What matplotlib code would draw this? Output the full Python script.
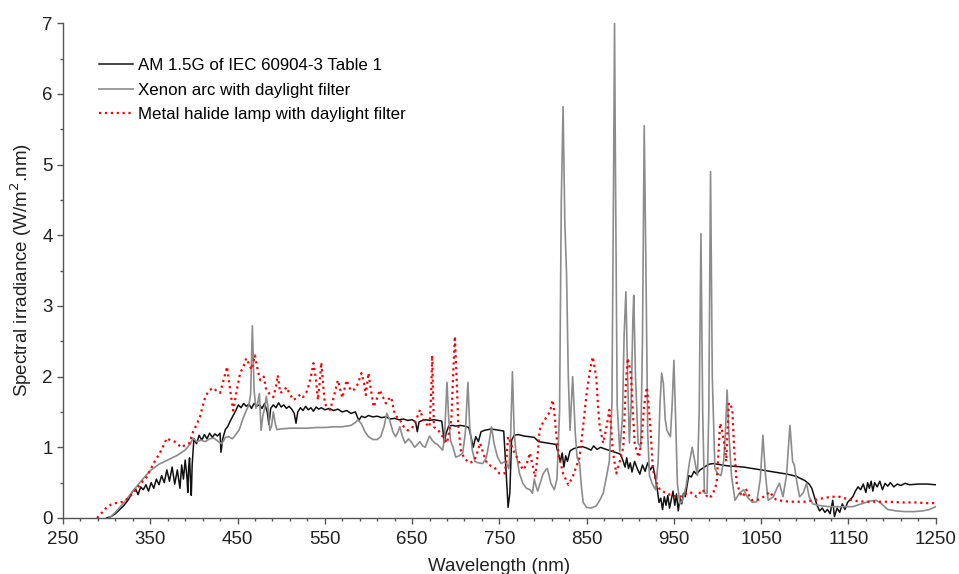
import matplotlib
matplotlib.use('Agg')
import matplotlib.pyplot as plt
from matplotlib.ticker import MultipleLocator

plt.rcParams['font.family'] = ['Liberation Sans', 'DejaVu Sans']

# AM 1.5G reference spectrum
am_wl = [300, 305, 310, 315, 320, 325, 330, 333, 336, 339, 342, 345, 348, 351, 354, 357, 360, 363, 366, 369,
         372, 375, 378, 381, 384, 386, 388, 390, 392, 393, 394, 395, 396, 397, 398, 400, 403, 406, 409, 412,
         415, 418, 421, 424, 427, 430, 431, 433, 436, 439, 442, 445, 448, 451, 454, 457, 460, 463, 466, 469,
         472, 475, 478, 481, 484, 486, 488, 491, 494, 497, 500, 503, 506, 509, 512, 515, 517, 519, 522, 525,
         528, 531, 534, 537, 540, 543, 546, 550, 555, 560, 565, 570, 575, 580, 585, 589, 592, 596, 600, 605,
         610, 615, 620, 625, 630, 635, 640, 645, 650, 654, 656, 658, 662, 666, 670, 675, 680, 684, 687, 689,
         692, 696, 700, 705, 710, 715, 718, 720, 723, 726, 729, 733, 737, 741, 745, 750, 755, 758, 760, 762,
         764, 767, 772, 778, 784, 790, 795, 800, 805, 810, 815, 818, 820, 822, 824, 826, 828, 831, 835, 840,
         845, 850, 855, 858, 862, 866, 870, 875, 880, 885, 889, 892, 894, 896, 898, 900, 902, 905, 908, 911,
         914, 917, 920, 923, 926, 929, 931, 933, 935, 937, 939, 941, 943, 945, 947, 949, 951, 953, 955, 957,
         959, 961, 963, 965, 967, 970, 973, 976, 980, 985, 990, 995, 1000, 1010, 1020, 1030, 1040, 1050, 1060, 1070,
         1080, 1090, 1100, 1105, 1108, 1111, 1114, 1117, 1120, 1123, 1126, 1129, 1132, 1134, 1137, 1140, 1143, 1146, 1149, 1152,
         1155, 1158, 1161, 1164, 1167, 1170, 1172, 1174, 1176, 1178, 1180, 1183, 1186, 1189, 1192, 1195, 1198, 1202, 1206, 1210,
         1215, 1220, 1230, 1240, 1250]
am_val = [0.0, 0.02, 0.06, 0.12, 0.18, 0.26, 0.38, 0.42, 0.33, 0.44, 0.40, 0.47, 0.38, 0.50, 0.42, 0.55, 0.47, 0.60, 0.50, 0.68,
          0.52, 0.72, 0.48, 0.68, 0.42, 0.75, 0.55, 0.82, 0.58, 0.36, 0.72, 0.85, 0.55, 0.32, 0.75, 1.12, 1.05, 1.17, 1.10, 1.18,
          1.12, 1.20, 1.14, 1.19, 1.16, 1.20, 0.93, 1.12, 1.25, 1.30, 1.38, 1.45, 1.52, 1.60, 1.56, 1.62, 1.58, 1.61, 1.55, 1.62,
          1.58, 1.60, 1.55, 1.62, 1.50, 1.32, 1.55, 1.60, 1.56, 1.63, 1.57, 1.60, 1.55, 1.58, 1.54, 1.48, 1.34, 1.50, 1.56, 1.52,
          1.58, 1.53, 1.56, 1.51, 1.57, 1.54, 1.56, 1.53, 1.55, 1.52, 1.54, 1.50, 1.52, 1.48, 1.50, 1.38, 1.44, 1.42, 1.45, 1.43,
          1.44, 1.42, 1.43, 1.40, 1.41, 1.39, 1.40, 1.38, 1.39, 1.36, 1.22, 1.36, 1.38, 1.39, 1.38, 1.39, 1.38, 1.37, 1.07, 1.20,
          1.30, 1.31, 1.30, 1.31, 1.30, 1.28, 1.12, 1.00, 1.15, 1.08, 1.22, 1.24, 1.25, 1.26, 1.25, 1.24, 1.23, 0.60, 0.15, 0.35,
          1.10, 1.17, 1.18, 1.16, 1.15, 1.14, 1.08, 1.07, 1.06, 1.05, 1.04, 0.88, 0.80, 0.92, 0.72, 0.88, 0.80, 0.95, 0.98, 1.00,
          1.01, 0.99, 0.96, 1.02, 0.97, 1.00, 0.98, 0.96, 0.94, 0.92, 0.90, 0.80, 0.72, 0.85, 0.70, 0.78, 0.65, 0.80, 0.70, 0.62,
          0.75, 0.66, 0.78, 0.68, 0.74, 0.55, 0.40, 0.22, 0.28, 0.12, 0.30, 0.18, 0.32, 0.14, 0.26, 0.38, 0.18, 0.34, 0.10, 0.28,
          0.20, 0.35, 0.30, 0.45, 0.60, 0.58, 0.66, 0.62, 0.68, 0.72, 0.76, 0.77, 0.76, 0.74, 0.73, 0.72, 0.70, 0.68, 0.66, 0.64,
          0.62, 0.59, 0.53, 0.48, 0.42, 0.30, 0.18, 0.10, 0.14, 0.08, 0.12, 0.06, 0.25, 0.02, 0.14, 0.08, 0.20, 0.12, 0.22, 0.26,
          0.30, 0.38, 0.44, 0.40, 0.48, 0.36, 0.50, 0.42, 0.52, 0.38, 0.50, 0.44, 0.52, 0.40, 0.49, 0.45, 0.50, 0.44, 0.48, 0.46,
          0.49, 0.47, 0.48, 0.48, 0.47]

# Xenon arc with daylight filter
xe_wl = [303, 310, 320, 330, 340, 350, 360, 370, 380, 390, 396, 399, 403, 408, 413, 418, 423, 428, 432, 436,
         440, 444, 448, 452, 456, 460, 463, 465, 467, 469, 471, 473, 475, 477, 479, 481, 483, 485, 487, 489,
         491, 493, 495, 500, 510, 520, 530, 540, 550, 560, 570, 580, 585, 588, 592, 596, 600, 605, 610, 614,
         618, 621, 624, 628, 631, 634, 636, 639, 642, 646, 650, 653, 656, 659, 662, 665, 668, 670, 673, 676,
         679, 682, 685, 687, 690, 692, 694, 697, 700, 704, 708, 711, 714, 716, 719, 722, 726, 731, 735, 738,
         741, 744, 748, 752, 757, 761, 763, 765, 767, 769, 773, 777, 781, 785, 788, 790, 792, 794, 797, 800,
         803, 805, 807, 809, 813, 816, 819, 821, 823, 825, 827, 829, 831, 834, 837, 839, 842, 844, 846, 850,
         855, 861, 865, 869, 873, 876, 879, 881, 882, 883, 885, 888, 891, 893, 895, 897, 899, 901, 903, 904,
         906, 909, 912, 914, 916, 918, 920, 922, 925, 929, 932, 934, 936, 938, 940, 942, 946, 948, 950, 952,
         954, 957, 960, 964, 968, 971, 974, 977, 979, 981, 983, 985, 988, 990, 992, 994, 997, 1000, 1004, 1007,
         1009, 1011, 1013, 1016, 1020, 1025, 1030, 1034, 1040, 1045, 1049, 1052, 1055, 1058, 1064, 1068, 1071, 1075, 1079, 1083,
         1086, 1088, 1091, 1094, 1098, 1102, 1105, 1109, 1115, 1120, 1128, 1140, 1155, 1165, 1175, 1182, 1188, 1195, 1205, 1215,
         1225, 1235, 1243, 1250]
xe_val = [0.0, 0.08, 0.22, 0.38, 0.53, 0.67, 0.76, 0.82, 0.88, 0.96, 1.05, 1.13, 1.08, 1.10, 1.08, 1.12, 1.13, 1.08, 1.05, 1.14,
          1.15, 1.12, 1.18, 1.25, 1.40, 1.52, 1.60, 1.75, 2.72, 1.80, 1.55, 1.62, 1.76, 1.24, 1.45, 1.55, 1.72, 1.55, 1.24, 1.30,
          1.50, 1.35, 1.25, 1.26, 1.27, 1.27, 1.27, 1.28, 1.28, 1.29, 1.29, 1.31, 1.35, 1.39, 1.33, 1.22, 1.15, 1.11, 1.11, 1.15,
          1.30, 1.48, 1.40, 1.22, 1.15, 1.22, 1.29, 1.15, 1.06, 1.12, 1.06, 1.00, 1.04, 1.08, 1.02, 1.00, 1.10, 1.16, 1.10, 1.06,
          1.04, 1.00, 0.96, 1.10, 1.92, 1.40, 1.10, 1.00, 0.86, 0.88, 0.92, 1.20, 1.92, 1.30, 0.96, 0.80, 0.78, 0.77, 0.85, 1.05,
          1.29, 1.05, 0.86, 0.77, 0.80, 0.70, 1.20, 2.07, 1.20, 0.94, 0.63, 0.49, 0.42, 0.40, 0.35, 0.55, 0.45, 0.38, 0.50, 0.62,
          0.68, 0.70, 0.60, 0.49, 0.40, 0.55, 1.50, 4.50, 5.82, 4.20, 3.45, 2.00, 1.24, 2.00, 1.20, 0.86, 0.77, 0.45, 0.22, 0.15,
          0.14, 0.17, 0.25, 0.35, 0.60, 0.80, 1.60, 5.00, 7.00, 5.00, 1.60, 0.94, 1.40, 2.60, 3.20, 2.00, 1.06, 1.60, 2.80, 3.15,
          2.00, 1.06, 1.00, 2.50, 5.55, 3.50, 1.20, 0.60, 0.49, 0.40, 0.80, 1.60, 2.05, 1.90, 1.40, 1.24, 1.15, 1.60, 2.23, 1.40,
          0.49, 0.20, 0.25, 0.45, 0.80, 1.00, 0.80, 0.60, 1.50, 4.02, 1.50, 0.35, 0.35, 1.50, 4.90, 2.00, 0.70, 0.63, 0.60, 0.80,
          1.20, 1.81, 1.20, 0.60, 0.25, 0.35, 0.40, 0.30, 0.22, 0.23, 0.55, 1.17, 0.60, 0.25, 0.30, 0.42, 0.49, 0.30, 0.60, 1.31,
          0.80, 0.75, 0.50, 0.30, 0.35, 0.49, 0.30, 0.20, 0.18, 0.17, 0.16, 0.16, 0.16, 0.20, 0.24, 0.25, 0.20, 0.12, 0.10, 0.09,
          0.09, 0.10, 0.12, 0.16]

# Metal halide lamp with daylight filter
mh_wl = [289, 295, 300, 305, 310, 315, 319, 325, 330, 335, 340, 346, 350, 355, 361, 365, 369, 373, 378, 382,
         385, 390, 395, 399, 403, 407, 410, 413, 417, 422, 426, 430, 434, 438, 440, 442, 445, 449, 453, 457,
         460, 463, 466, 468, 470, 473, 476, 480, 483, 487, 491, 494, 496, 499, 503, 506, 510, 514, 518, 522,
         525, 530, 534, 537, 540, 542, 544, 546, 548, 550, 553, 556, 560, 565, 568, 570, 573, 575, 578, 580,
         584, 588, 592, 595, 597, 600, 603, 606, 610, 613, 617, 620, 623, 626, 630, 633, 636, 640, 645, 650,
         655, 659, 663, 667, 670, 672, 673, 674, 675, 680, 685, 690, 695, 697, 699, 701, 703, 706, 710, 716,
         720, 723, 728, 732, 736, 740, 744, 750, 756, 758, 760, 762, 765, 770, 774, 777, 781, 785, 788, 791,
         794, 796, 800, 804, 808, 811, 813, 815, 818, 823, 829, 834, 838, 842, 846, 850, 854, 857, 861, 863,
         865, 869, 873, 876, 878, 880, 884, 888, 892, 895, 897, 899, 901, 903, 905, 908, 910, 913, 916, 919,
         921, 923, 926, 930, 934, 940, 945, 950, 957, 962, 968, 972, 976, 980, 983, 987, 991, 995, 999, 1001,
         1003, 1005, 1007, 1009, 1010, 1011, 1013, 1015, 1017, 1019, 1022, 1026, 1029, 1033, 1036, 1040, 1048, 1055, 1060, 1064,
         1067, 1075, 1083, 1092, 1100, 1110, 1121, 1130, 1140, 1151, 1160, 1170, 1185, 1197, 1212, 1227, 1240, 1250]
mh_val = [0.0, 0.08, 0.15, 0.19, 0.21, 0.22, 0.23, 0.28, 0.35, 0.42, 0.50, 0.58, 0.68, 0.80, 0.92, 1.02, 1.13, 1.10, 1.08, 1.04,
          1.00, 1.03, 1.06, 1.22, 1.32, 1.43, 1.58, 1.71, 1.80, 1.84, 1.80, 1.77, 1.95, 2.14, 1.95, 1.77, 1.52, 1.80, 2.05, 2.15,
          2.26, 2.18, 2.10, 2.20, 2.30, 2.10, 1.95, 2.00, 1.81, 1.75, 1.71, 1.85, 2.02, 1.77, 1.80, 1.85, 1.75, 1.67, 1.70, 1.75,
          1.71, 1.80, 2.00, 2.19, 1.95, 1.67, 1.90, 2.20, 1.90, 1.62, 1.56, 1.53, 1.70, 1.95, 1.80, 1.70, 1.85, 1.95, 1.85, 1.80,
          1.82, 1.90, 2.05, 1.90, 1.74, 2.05, 1.80, 1.57, 1.70, 1.81, 1.70, 1.62, 1.68, 1.71, 1.48, 1.42, 1.39, 1.30, 1.24, 1.27,
          1.40, 1.53, 1.39, 1.32, 1.29, 1.80, 2.30, 1.80, 1.29, 1.24, 1.15, 1.06, 1.39, 2.00, 2.57, 2.00, 1.30, 0.95, 0.84, 0.78,
          0.80, 0.86, 1.06, 0.90, 0.77, 0.74, 0.72, 0.63, 0.63, 0.80, 1.15, 1.10, 0.98, 0.86, 0.76, 0.68, 0.75, 0.92, 0.75, 0.58,
          0.90, 1.24, 1.35, 1.43, 1.50, 1.67, 1.50, 1.20, 0.90, 0.63, 0.47, 0.58, 0.72, 0.86, 1.30, 1.76, 2.10, 2.28, 2.00, 1.60,
          1.29, 1.06, 1.30, 1.53, 1.30, 0.95, 0.63, 0.80, 1.00, 1.90, 2.26, 2.15, 2.00, 1.50, 1.06, 0.92, 0.86, 1.10, 1.60, 1.85,
          1.60, 1.29, 0.68, 0.50, 0.40, 0.36, 0.33, 0.31, 0.30, 0.33, 0.37, 0.34, 0.30, 0.36, 0.40, 0.32, 0.28, 0.35, 0.49, 0.90,
          1.34, 1.25, 1.10, 0.95, 0.80, 1.10, 1.63, 1.60, 1.53, 1.00, 0.49, 0.35, 0.30, 0.40, 0.32, 0.25, 0.26, 0.32, 0.37, 0.30,
          0.26, 0.24, 0.23, 0.23, 0.23, 0.25, 0.28, 0.30, 0.30, 0.26, 0.24, 0.23, 0.23, 0.23, 0.22, 0.22, 0.21, 0.21]

fig = plt.figure(figsize=(9.59, 5.74), dpi=100)
ax = fig.add_axes([0.0657, 0.0976, 0.910, 0.862])

ax.plot(am_wl, am_val, color='#111111', lw=1.1, label='AM 1.5G of IEC 60904-3 Table 1')
ax.plot(xe_wl, xe_val, color='#8c8c8c', lw=1.2, label='Xenon arc with daylight filter')
ax.plot(mh_wl, mh_val, color='#ff0000', lw=1.6, ls=':', label='Metal halide lamp with daylight filter')

ax.set_xlim(250, 1250)
ax.set_ylim(0, 7)
ax.xaxis.set_major_locator(MultipleLocator(100, offset=50))
ax.xaxis.set_minor_locator(MultipleLocator(20, offset=10))
ax.yaxis.set_major_locator(MultipleLocator(1))
ax.yaxis.set_minor_locator(MultipleLocator(0.5))

for s in ['top', 'right']:
    ax.spines[s].set_visible(False)
for s in ['left', 'bottom']:
    ax.spines[s].set_color('#555555')
    ax.spines[s].set_linewidth(1.0)

ax.tick_params(which='major', length=4.5, width=1, color='#555555', labelsize=13.5, labelcolor='#222222', pad=3)
ax.tick_params(axis='x', which='major', pad=5)
ax.tick_params(which='minor', length=2.3, width=1, color='#555555')

ax.set_xlabel('Wavelength (nm)', fontsize=13.5, color='#222222', labelpad=7)
ax.set_ylabel('Spectral irradiance (W/m$^2$.nm)', fontsize=13.5, color='#222222', labelpad=5.5)

ax.legend(loc='upper left', bbox_to_anchor=(99 / 959, 1 - 58 / 574), bbox_transform=fig.transFigure,
          frameon=False, fontsize=12.2, handlelength=2.0, handletextpad=0.3, labelspacing=0.57,
          borderpad=0, borderaxespad=0)

fig.savefig('out.png', dpi=100)
